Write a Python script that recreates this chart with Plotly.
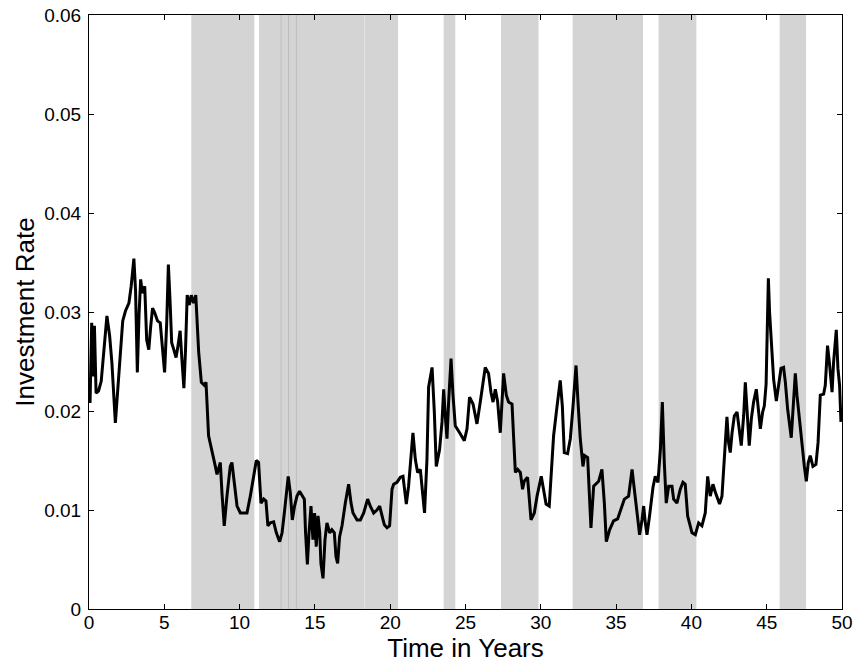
import plotly.graph_objects as go

# ---- data ----
years = [0.07, 0.18, 0.29, 0.36, 0.47, 0.63, 0.81, 1.01, 1.19, 1.37, 1.52, 1.75, 1.86, 2.04, 2.24, 2.42, 2.65, 2.80, 2.98, 3.09,
         3.21, 3.32, 3.43, 3.54, 3.70, 3.83, 3.97, 4.10, 4.22, 4.37, 4.55, 4.73, 4.89, 5.02, 5.16, 5.27, 5.38, 5.49, 5.63, 5.78,
         5.90, 6.05, 6.17, 6.30, 6.41, 6.52, 6.66, 6.79, 6.95, 7.09, 7.28, 7.46, 7.66, 7.77, 7.94, 8.16, 8.39, 8.50, 8.61, 8.72,
         8.83, 8.98, 9.16, 9.38, 9.49, 9.65, 9.83, 10.05, 10.27, 10.49, 10.71, 10.98, 11.11, 11.26, 11.42, 11.60, 11.75, 11.88, 12.04, 12.26,
         12.44, 12.66, 12.82, 12.97, 13.10, 13.23, 13.37, 13.50, 13.65, 13.81, 13.98, 14.14, 14.30, 14.38, 14.50, 14.61, 14.74, 14.87, 14.98, 15.09,
         15.21, 15.32, 15.40, 15.54, 15.67, 15.80, 15.98, 16.13, 16.29, 16.40, 16.51, 16.64, 16.80, 17.02, 17.24, 17.40, 17.53, 17.80, 18.02, 18.24,
         18.50, 18.68, 18.90, 19.12, 19.30, 19.46, 19.61, 19.79, 19.96, 20.12, 20.23, 20.45, 20.67, 20.85, 21.07, 21.22, 21.33, 21.51, 21.67, 21.82,
         22.00, 22.13, 22.28, 22.44, 22.55, 22.78, 22.93, 23.06, 23.28, 23.44, 23.55, 23.66, 23.77, 23.88, 24.04, 24.17, 24.32, 24.65, 24.92, 25.10,
         25.27, 25.50, 25.76, 25.98, 26.31, 26.53, 26.69, 26.83, 26.98, 27.13, 27.31, 27.53, 27.71, 27.86, 28.09, 28.19, 28.31, 28.46, 28.64, 28.79,
         28.90, 29.12, 29.26, 29.35, 29.57, 29.75, 30.03, 30.19, 30.35, 30.56, 30.70, 30.85, 31.08, 31.29, 31.43, 31.56, 31.78, 31.96, 32.14, 32.34,
         32.47, 32.62, 32.80, 32.91, 33.11, 33.22, 33.33, 33.51, 33.62, 33.84, 34.06, 34.22, 34.35, 34.57, 34.83, 35.10, 35.28, 35.55, 35.83, 35.94,
         36.06, 36.21, 36.39, 36.56, 36.72, 36.83, 36.94, 37.05, 37.22, 37.45, 37.60, 37.78, 37.94, 38.07, 38.20, 38.33, 38.49, 38.71, 38.82, 39.04,
         39.26, 39.44, 39.59, 39.75, 40.04, 40.26, 40.48, 40.70, 40.92, 41.08, 41.25, 41.43, 41.59, 41.87, 42.03, 42.14, 42.25, 42.36, 42.47, 42.58,
         42.70, 42.85, 43.03, 43.18, 43.31, 43.47, 43.58, 43.69, 43.84, 43.98, 44.13, 44.31, 44.46, 44.58, 44.73, 44.84, 44.96, 45.02, 45.11, 45.19,
         45.31, 45.46, 45.64, 45.79, 45.95, 46.12, 46.24, 46.39, 46.52, 46.63, 46.75, 46.90, 47.01, 47.19, 47.34, 47.50, 47.63, 47.76, 47.89, 48.07,
         48.27, 48.41, 48.56, 48.78, 48.89, 49.04, 49.18, 49.34, 49.44, 49.62, 49.73, 49.84, 49.93]

investment_rate = [0.0208, 0.0289, 0.0235, 0.0286, 0.0218, 0.0220, 0.0230, 0.0262, 0.0296, 0.0276, 0.0249, 0.0188, 0.0212, 0.0255, 0.0291, 0.0301, 0.0309, 0.0326, 0.0354, 0.0322,
                   0.0239, 0.0296, 0.0333, 0.0319, 0.0326, 0.0272, 0.0262, 0.0286, 0.0304, 0.0299, 0.0291, 0.0289, 0.0262, 0.0239, 0.0289, 0.0348, 0.0312, 0.0269, 0.0262, 0.0254,
                   0.0265, 0.0281, 0.0252, 0.0223, 0.0262, 0.0317, 0.0307, 0.0317, 0.0309, 0.0317, 0.0260, 0.0229, 0.0226, 0.0229, 0.0175, 0.0161, 0.0144, 0.0136, 0.0141, 0.0148,
                   0.0117, 0.0084, 0.0114, 0.0144, 0.0148, 0.0128, 0.0104, 0.0097, 0.0097, 0.0097, 0.0114, 0.0141, 0.0150, 0.0148, 0.0107, 0.0111, 0.0109, 0.0084, 0.0087, 0.0088,
                   0.0077, 0.0068, 0.0077, 0.0097, 0.0117, 0.0134, 0.0117, 0.0090, 0.0104, 0.0114, 0.0119, 0.0115, 0.0111, 0.0077, 0.0045, 0.0077, 0.0104, 0.0070, 0.0097, 0.0063,
                   0.0094, 0.0077, 0.0046, 0.0031, 0.0070, 0.0087, 0.0077, 0.0080, 0.0077, 0.0053, 0.0046, 0.0073, 0.0084, 0.0107, 0.0126, 0.0107, 0.0097, 0.0090, 0.0090, 0.0097,
                   0.0111, 0.0104, 0.0097, 0.0100, 0.0104, 0.0094, 0.0085, 0.0082, 0.0084, 0.0121, 0.0126, 0.0128, 0.0133, 0.0134, 0.0106, 0.0124, 0.0148, 0.0178, 0.0151, 0.0138,
                   0.0141, 0.0121, 0.0097, 0.0151, 0.0224, 0.0244, 0.0199, 0.0144, 0.0161, 0.0189, 0.0222, 0.0195, 0.0172, 0.0209, 0.0253, 0.0216, 0.0185, 0.0177, 0.0170, 0.0182,
                   0.0214, 0.0207, 0.0187, 0.0209, 0.0244, 0.0238, 0.0219, 0.0209, 0.0222, 0.0210, 0.0178, 0.0238, 0.0216, 0.0209, 0.0207, 0.0175, 0.0138, 0.0141, 0.0138, 0.0121,
                   0.0129, 0.0133, 0.0104, 0.0090, 0.0097, 0.0114, 0.0134, 0.0121, 0.0106, 0.0104, 0.0141, 0.0175, 0.0205, 0.0231, 0.0205, 0.0158, 0.0157, 0.0172, 0.0205, 0.0246,
                   0.0209, 0.0172, 0.0144, 0.0155, 0.0153, 0.0121, 0.0082, 0.0124, 0.0126, 0.0129, 0.0141, 0.0107, 0.0068, 0.0080, 0.0089, 0.0091, 0.0099, 0.0111, 0.0114, 0.0128,
                   0.0141, 0.0121, 0.0094, 0.0075, 0.0090, 0.0104, 0.0087, 0.0075, 0.0094, 0.0123, 0.0134, 0.0128, 0.0161, 0.0209, 0.0148, 0.0107, 0.0124, 0.0124, 0.0111, 0.0107,
                   0.0121, 0.0128, 0.0126, 0.0094, 0.0077, 0.0075, 0.0087, 0.0084, 0.0097, 0.0134, 0.0114, 0.0126, 0.0118, 0.0106, 0.0114, 0.0141, 0.0161, 0.0194, 0.0168, 0.0158,
                   0.0178, 0.0195, 0.0199, 0.0182, 0.0165, 0.0195, 0.0229, 0.0202, 0.0165, 0.0192, 0.0209, 0.0222, 0.0202, 0.0182, 0.0199, 0.0205, 0.0227, 0.0266, 0.0334, 0.0300,
                   0.0266, 0.0232, 0.0210, 0.0229, 0.0243, 0.0244, 0.0229, 0.0202, 0.0189, 0.0173, 0.0202, 0.0238, 0.0216, 0.0189, 0.0161, 0.0144, 0.0129, 0.0148, 0.0155, 0.0144,
                   0.0146, 0.0168, 0.0216, 0.0217, 0.0226, 0.0266, 0.0246, 0.0219, 0.0249, 0.0282, 0.0243, 0.0226, 0.0189]

# shaded periods (start, end) in years
shade_start = [6.79, 11.29, 12.75, 13.25, 13.77, 18.30, 23.55, 27.36, 32.11, 37.82, 45.86]
shade_end = [10.98, 12.75, 13.25, 13.77, 18.30, 20.52, 24.32, 29.85, 36.79, 40.33, 47.61]
# visible seams between adjacent shaded patches
seam_dark = [12.75, 13.25, 13.77]
seam_light = [18.30]

x_ticks = [0, 5, 10, 15, 20, 25, 30, 35, 40, 45, 50]
y_ticks = [0, 0.01, 0.02, 0.03, 0.04, 0.05, 0.06]
y_tick_text = ["0", "0.01", "0.02", "0.03", "0.04", "0.05", "0.06"]

FONT = "Liberation Sans, Arial, Helvetica, sans-serif"

fig = go.Figure()

shapes = []
for s, e in zip(shade_start, shade_end):
    shapes.append(dict(type="rect", xref="x", yref="paper", x0=s, x1=e, y0=0, y1=1,
                       fillcolor="#d4d4d4", line=dict(width=0), layer="below"))
for s in seam_dark:
    shapes.append(dict(type="line", xref="x", yref="paper", x0=s, x1=s, y0=0, y1=1,
                       line=dict(color="#bcbcbc", width=1), layer="below"))
for s in seam_light:
    shapes.append(dict(type="line", xref="x", yref="paper", x0=s, x1=s, y0=0, y1=1,
                       line=dict(color="#e2e2e2", width=1), layer="below"))

fig.add_trace(go.Scatter(x=years, y=investment_rate, mode="lines",
                         line=dict(color="black", width=3), showlegend=False))

fig.update_layout(
    width=853, height=666,
    margin=dict(l=89, r=11, t=15, b=57),
    paper_bgcolor="white", plot_bgcolor="white",
    font=dict(family=FONT, size=19, color="black"),
    shapes=shapes,
    xaxis=dict(range=[0, 50], tickvals=x_ticks, ticks="inside", ticklen=5, tickcolor="black",
               showline=True, linecolor="black", linewidth=1, mirror="allticks",
               showgrid=False, zeroline=False, automargin=False, ticklabelstandoff=-4,
               ticklabeloverflow="allow",
               title=dict(text="Time in Years", font=dict(size=26), standoff=4),
               tickfont=dict(size=19)),
    yaxis=dict(range=[0, 0.06], tickvals=y_ticks, ticktext=y_tick_text, ticks="inside", ticklen=5,
               tickcolor="black", showline=True, linecolor="black", linewidth=1, mirror="allticks",
               showgrid=False, zeroline=False, automargin=False, ticklabelstandoff=3,
               ticklabeloverflow="allow",
               title=dict(text="Investment Rate", font=dict(size=26), standoff=2),
               tickfont=dict(size=19)),
)

# remove the default page margin so the 853x666 figure fills the window exactly
fig.write_html("out.html", config={"displayModeBar": False},
               post_script="document.body.style.margin='0';document.body.style.overflow='hidden';")
